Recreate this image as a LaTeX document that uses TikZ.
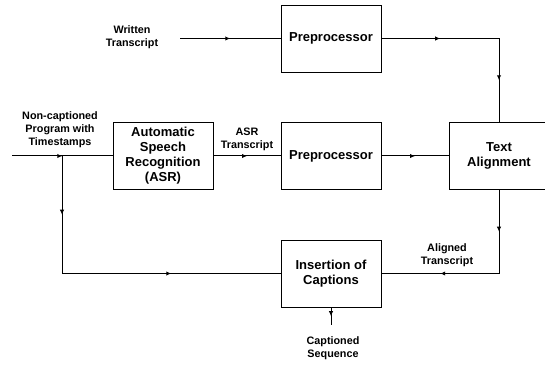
\documentclass[tikz,border=0pt]{standalone}
\usepackage{fontspec}
\setmainfont{Liberation Sans}
\usetikzlibrary{arrows.meta,decorations.markings,calc}

\begin{document}
\begin{tikzpicture}[x=1pt, y=1pt,
    box/.style={draw, line width=0.9pt, minimum width=100pt, minimum height=67pt,
        align=center, font=\fontsize{13}{15}\selectfont\bfseries},
    lbl/.style={align=center, font=\fontsize{10.8}{13}\selectfont\bfseries},
    flow/.style={line width=1pt, decoration={markings,
        mark=at position 0.5 with {\arrow{Latex[length=5pt,width=4.5pt]}}},
        postaction={decorate}}]
    \useasboundingbox (0,0) rectangle (545,364);

    \node[box] (pre1) at (331,325.5) {Preprocessor};
    \node[box] (asr) at (163,208) {Automatic\\Speech\\Recognition\\(ASR)};
    \node[box] (pre2) at (331,208) {Preprocessor};
    \node[box] (align) at (499,208) {Text\\Alignment};
    \node[box] (ins) at (331,90.5) {Insertion of\\Captions};

    \node[lbl] (wtxt) at (132,327) {Written\\Transcript};
    \node[lbl] (ntxt) at (60,234) {Non-captioned\\Program with\\Timestamps};
    \node[lbl] (atxt) at (247,225) {ASR\\Transcript};
    \node[lbl] (altxt) at (447,108.5) {Aligned\\Transcript};
    \node[lbl] (ctxt) at (333,16) {Captioned\\Sequence};

    \coordinate (wt) at (180,325.5);
    \coordinate (in) at (12,208);
    \coordinate (br) at (62,208);
    \coordinate (c1) at (align.north |- pre1.east);
    \coordinate (c2) at (br |- ins.west);
    \coordinate (c3) at (align.south |- ins.east);
    \coordinate (out) at (331,39);

    \draw[flow] (wt) -- (pre1.west);
    \draw[flow] (pre1.east) -- (c1);
    \draw[flow] (c1) -- (align.north);
    \draw[flow] (in) -- (asr.west);
    \draw[flow] (br) -- (c2);
    \draw[flow] (c2) -- (ins.west);
    \draw[flow] (asr.east) -- (pre2.west);
    \draw[flow] (pre2.east) -- (align.west);
    \draw[flow] (align.south) -- (c3);
    \draw[flow] (c3) -- (ins.east);
    \draw[flow] (ins.south) -- (out);
\end{tikzpicture}
\end{document}
